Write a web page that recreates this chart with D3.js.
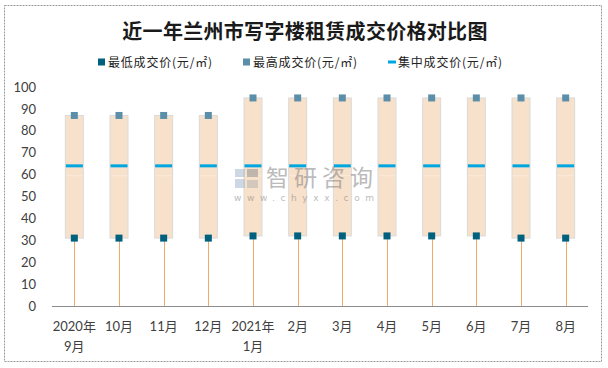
<!DOCTYPE html>
<html><head><meta charset="utf-8">
<script src="https://cdn.jsdelivr.net/npm/d3@7"></script>
<style>
html,body{margin:0;padding:0;background:#fff;}
svg{display:block;}
</style></head>
<body>
<svg id="c" width="608" height="368"></svg>
<script>
const categories = ["2020年\n9月","10月","11月","12月","2021年\n1月","2月","3月","4月","5月","6月","7月","8月"];
const minValues = [31,31,31,31,32,32,32,32,32,32,31,31];
const maxValues = [87,87,87,87,95,95,95,95,95,95,95,95];
const midValues = [64,64,64,64,64,64,64,64,64,64,64,64];
const yTicks = [0,10,20,30,40,50,60,70,80,90,100];
const title = "近一年兰州市写字楼租赁成交价格对比图";
const legendLabels = ["最低成交价(元/㎡)","最高成交价(元/㎡)","集中成交价(元/㎡)"];

const svg = d3.select("#c");
const cMin = "#00617F", cMax = "#5B8FA9", cMid = "#00A6E0", cBar = "#F8E1CB", cDrop = "#F2A868";

// border
svg.append("rect").attr("x",4.5).attr("y",5.5).attr("width",597).attr("height",356)
  .attr("fill","#fff").attr("stroke","#9a9a9a").attr("stroke-dasharray","2,1");

const x = d3.scaleBand().domain(categories).range([52,588]);
const y = d3.scaleLinear().domain([0,100]).range([306,87]);

// title
svg.append("text").attr("x",305).attr("y",39).attr("text-anchor","middle")
  .attr("font-family","'Noto Sans CJK SC'").attr("font-weight","bold").attr("font-size",20)
  .attr("letter-spacing",0.3).attr("fill","#1a1a1a").text(title);

// legend
const lg = svg.append("g").attr("font-family","'Noto Sans CJK SC'").attr("font-size",12).attr("fill","#222");
const legX = [98, 243, 388];
legendLabels.forEach((t,i)=>{
  const g = lg.append("g").attr("transform",`translate(${legX[i]},62)`);
  if(i<2) g.append("rect").attr("x",0).attr("y",-3.5).attr("width",7).attr("height",7).attr("fill",i===0?cMin:cMax);
  else g.append("rect").attr("x",0).attr("y",-1.5).attr("width",8).attr("height",3).attr("fill",cMid);
  g.append("text").attr("x",10).attr("y",4.5).attr("letter-spacing",0.8).text(t);
});

// y axis labels
const ya = svg.append("g").attr("transform","translate(36,0)")
  .call(d3.axisLeft(y).tickValues(yTicks).tickSize(0).tickPadding(0));
ya.select(".domain").remove();
ya.selectAll("text").attr("font-family","Lato, 'Noto Sans'").attr("font-size",13).attr("fill","#404040");

const data = categories.map((c,i)=>({c, lo:minValues[i], hi:maxValues[i], mid:midValues[i]}));
const bw = 18;

// bars
svg.append("g").selectAll("rect").data(data).join("rect")
  .attr("x",d=>x(d.c)+x.bandwidth()/2-bw/2).attr("y",d=>y(d.hi))
  .attr("width",bw).attr("height",d=>y(d.lo)-y(d.hi))
  .attr("fill",cBar).attr("stroke","#dadada").attr("stroke-width",1);
// faint segment boundary
svg.append("g").selectAll("line").data(data).join("line")
  .attr("x1",d=>x(d.c)+x.bandwidth()/2-bw/2+1).attr("x2",d=>x(d.c)+x.bandwidth()/2+bw/2-1)
  .attr("y1",y(59.5)).attr("y2",y(59.5)).attr("stroke","#fff").attr("stroke-opacity",0.35).attr("stroke-width",1);

// axis line
svg.append("line").attr("x1",52).attr("x2",588).attr("y1",306.5).attr("y2",306.5).attr("stroke","#8c8c8c").attr("stroke-width",1);

// drop lines
svg.append("g").selectAll("line").data(data).join("line")
  .attr("x1",d=>Math.round(x(d.c)+x.bandwidth()/2)+0.5).attr("x2",d=>Math.round(x(d.c)+x.bandwidth()/2)+0.5)
  .attr("y1",d=>y(d.lo)).attr("y2",306).attr("stroke",cDrop).attr("stroke-width",1);

// median lines
svg.append("g").selectAll("rect").data(data).join("rect")
  .attr("x",d=>x(d.c)+x.bandwidth()/2-8.5).attr("y",d=>y(d.mid)-1.5)
  .attr("width",17).attr("height",3).attr("fill",cMid);

// min markers
svg.append("g").selectAll("rect").data(data).join("rect")
  .attr("x",d=>x(d.c)+x.bandwidth()/2-3.5).attr("y",d=>y(d.lo)-3.5)
  .attr("width",7).attr("height",7).attr("fill",cMin);
// max markers
svg.append("g").selectAll("rect").data(data).join("rect")
  .attr("x",d=>x(d.c)+x.bandwidth()/2-3.5).attr("y",d=>y(d.hi)-3.5)
  .attr("width",7).attr("height",7).attr("fill",cMax);

// watermark (on top)
const wm = svg.append("g").attr("opacity",0.5);
wm.append("rect").attr("x",235).attr("y",169).attr("width",10).attr("height",8).attr("fill","#9fb3cc");
wm.append("rect").attr("x",235).attr("y",179).attr("width",10).attr("height",9).attr("fill","#9fb3cc");
wm.append("rect").attr("x",247).attr("y",169).attr("width",11).attr("height",8).attr("fill","#8a8a8a");
wm.append("rect").attr("x",247).attr("y",180).attr("width",11).attr("height",8).attr("fill","#b0b0b0");
wm.append("text").attr("x",266).attr("y",186).attr("font-family","'Noto Sans CJK SC'").attr("font-size",23)
  .attr("letter-spacing",5).attr("fill","#7a7a7a").text("智研咨询");
wm.append("text").attr("x",234).attr("y",201).attr("font-family","'DejaVu Sans'").attr("font-size",9)
  .attr("letter-spacing",5.6).attr("fill","#7a7a7a").text("www.chyxx.com");

// x labels
const xl = svg.append("g").attr("font-family","Lato, 'Noto Sans CJK SC'").attr("font-size",13).attr("fill","#404040");
data.forEach(d=>{
  const t = xl.append("text").attr("text-anchor","middle").attr("x",x(d.c)+x.bandwidth()/2);
  d.c.split("\n").forEach((s,k)=>{
    t.append("tspan").attr("x",x(d.c)+x.bandwidth()/2).attr("y",331+k*20).text(s);
  });
});
</script>
</body></html>
